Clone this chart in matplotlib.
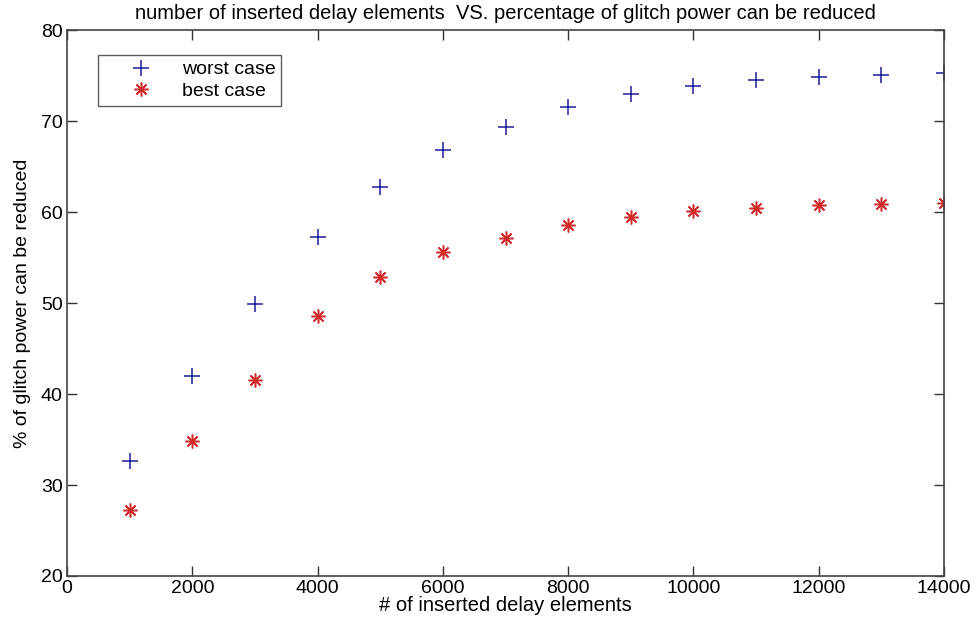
import numpy as np
import matplotlib
matplotlib.use('Agg')
import matplotlib.pyplot as plt

plt.rcParams['font.family'] = ['Liberation Sans', 'DejaVu Sans']

n_elements = np.arange(1000, 15000, 1000)
worst_case = np.array([32.7, 42.0, 49.9, 57.3, 62.8, 66.9, 69.4, 71.6, 73.0, 73.9, 74.5, 74.9, 75.1, 75.3])
best_case = np.array([27.3, 34.8, 41.6, 48.6, 52.9, 55.6, 57.2, 58.6, 59.5, 60.1, 60.5, 60.8, 60.95, 61.0])

fig = plt.figure(figsize=(9.74, 6.21), dpi=100)
ax = fig.add_axes([0.0688, 0.0725, 0.9004, 0.8785])

ax.plot(n_elements, worst_case, '+', color='#1c1c9a', markersize=11, markeredgewidth=1.1,
        label='worst case')
ax.plot(n_elements, best_case, linestyle='none', marker=(8, 2, 0), color='#d42a2a',
        markersize=10, markeredgewidth=1.1, label='best case')

ax.set_xlim(0, 14000)
ax.set_ylim(20, 80)
ax.set_xticks(np.arange(0, 14001, 2000))
ax.set_yticks(np.arange(20, 81, 10))
ax.tick_params(direction='in', top=True, right=True, length=7, width=1, labelsize=14,
               color='#333333', pad=3)
for s in ax.spines.values():
    s.set_color('#444444')
    s.set_linewidth(1.2)

ax.set_title('number of inserted delay elements  VS. percentage of glitch power can be reduced',
             fontsize=14.5, pad=8)
ax.set_xlabel('# of inserted delay elements', fontsize=14.5, labelpad=-1)
ax.set_ylabel('% of glitch power can be reduced', fontsize=14, labelpad=7)

leg = ax.legend(loc='upper left', bbox_to_anchor=(0.0353, 0.955), borderaxespad=0,
                fontsize=14, frameon=True, fancybox=False, edgecolor='#333333',
                handletextpad=0.2, borderpad=0.3, handlelength=3.8, labelspacing=0.2)
leg.get_frame().set_linewidth(1.0)

fig.savefig('out.png', dpi=100)
